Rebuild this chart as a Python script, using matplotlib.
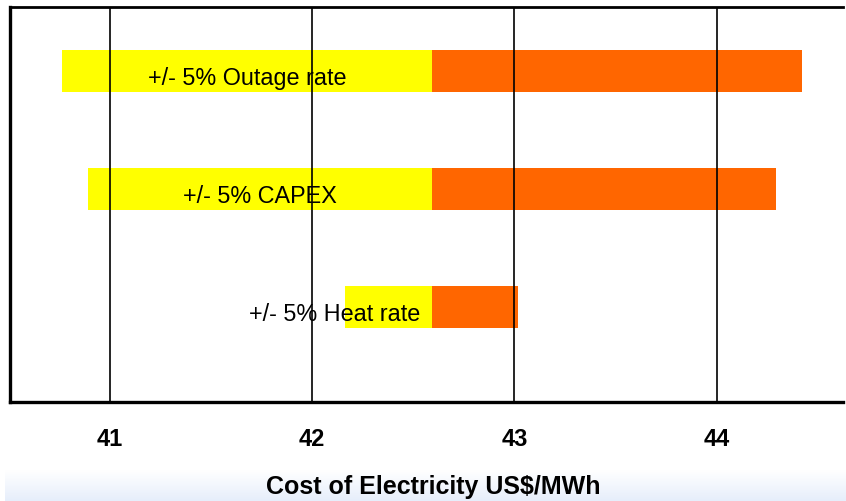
import numpy as np
import matplotlib
matplotlib.use("Agg")
import matplotlib.pyplot as plt
from matplotlib.colors import LinearSegmentedColormap

plt.rcParams['font.family'] = ['Liberation Sans', 'DejaVu Sans']

# tornado data, cost of electricity in US$/MWh
factors  = ['+/- 5% Heat rate', '+/- 5% CAPEX', '+/- 5% Outage rate']
base     = 42.594
low_val  = [42.162, 40.889, 40.764]
high_val = [43.019, 44.295, 44.422]
ticks    = [41, 42, 43, 44]

W, H = 846, 501
fig = plt.figure(figsize=(W / 100, H / 100), dpi=100)

# pale blue band along the bottom edge
bg = fig.add_axes([5 / W, 0, 1 - 5 / W, 31 / H], zorder=-5)
grad = np.linspace(0, 1, 50).reshape(-1, 1)
cmap = LinearSegmentedColormap.from_list('band', ['#e6eefb', '#ffffff'])
bg.imshow(grad, aspect='auto', cmap=cmap, origin='lower')
bg.axis('off')

ax = fig.add_axes([10 / W, (H - 402) / H, (843 - 10) / W, (402 - 7) / H])
ypos = np.arange(len(factors))
bh = 0.356

ax.barh(ypos, np.array(low_val) - base, left=base, height=bh,
        color='#ffff00', zorder=2)
ax.barh(ypos, np.array(high_val) - base, left=base, height=bh,
        color='#ff6600', zorder=2)

for y, name, lo in zip(ypos, factors, low_val):
    if base - lo > 1.0:
        ax.text((lo + base) / 2, y - 0.04, name, ha='center',
                va='center_baseline', fontsize=16.8, zorder=3)
    else:
        ax.text(base - 0.06, y - 0.04, name, ha='right',
                va='center_baseline', fontsize=16.8, zorder=3)

ax.set_xlim(40.5054, 44.625)
ax.set_ylim(-0.805, 2.542)
ax.set_xticks(ticks)
ax.set_xticklabels([str(t) for t in ticks], fontsize=17, fontweight='bold')
ax.set_yticks([])
ax.tick_params(axis='x', length=0, pad=19)

for t in ticks:
    ax.axvline(t, color='black', lw=1.2, zorder=4)

ax.spines['left'].set_linewidth(2.4)
ax.spines['bottom'].set_linewidth(2.4)
ax.spines['top'].set_linewidth(2.0)
ax.spines['right'].set_visible(False)

fig.text(433 / W, 1 - 487 / H, 'Cost of Electricity US$/MWh', ha='center',
         va='center', fontsize=18, fontweight='bold')

fig.savefig('out.png', dpi=100)
